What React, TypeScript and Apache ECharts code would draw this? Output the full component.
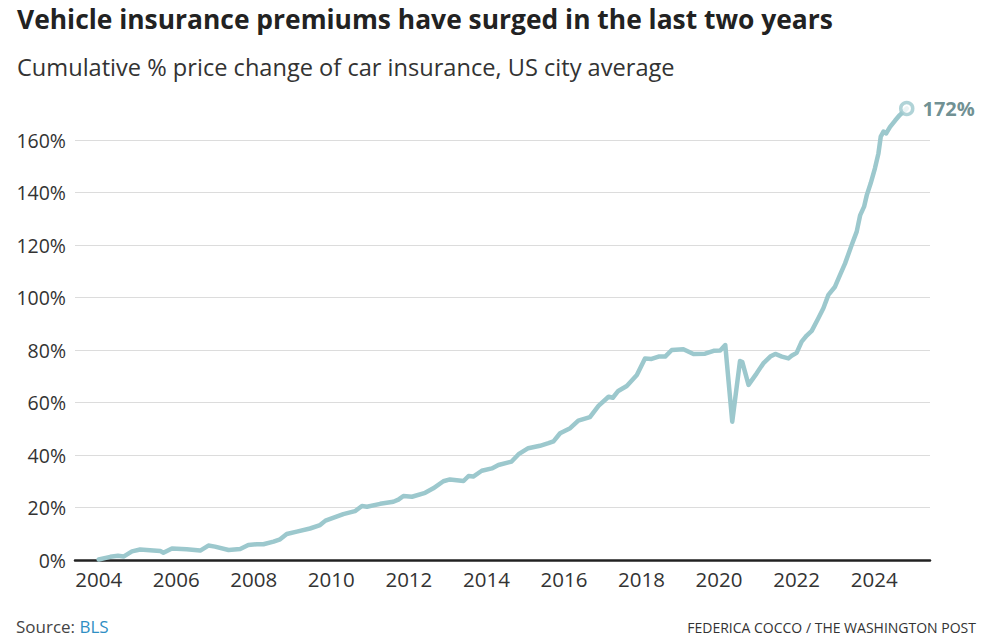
import React, { useEffect, useRef } from "react";
import * as echarts from "echarts";

const dates: number[] = [
  2004.0, 2004.3, 2004.5, 2004.64, 2004.86, 2005.07, 2005.41, 2005.59, 2005.67, 2005.89,
  2006.27, 2006.62, 2006.83, 2007.0, 2007.35, 2007.65, 2007.86, 2008.08, 2008.25, 2008.51,
  2008.68, 2008.85, 2009.11, 2009.45, 2009.71, 2009.85, 2010.31, 2010.61, 2010.79, 2010.92,
  2011.26, 2011.6, 2011.73, 2011.86, 2012.08, 2012.42, 2012.63, 2012.89, 2013.06, 2013.41,
  2013.54, 2013.66, 2013.88, 2014.14, 2014.31, 2014.65, 2014.83, 2015.08, 2015.38, 2015.6,
  2015.73, 2015.9, 2016.16, 2016.37, 2016.67, 2016.89, 2017.15, 2017.26, 2017.4, 2017.62,
  2017.88, 2018.09, 2018.26, 2018.44, 2018.61, 2018.78, 2019.08, 2019.34, 2019.64, 2019.86,
  2020.03, 2020.16, 2020.34, 2020.54, 2020.6, 2020.76, 2020.97, 2021.14, 2021.32, 2021.45,
  2021.62, 2021.79, 2021.87, 2022.0, 2022.13, 2022.26, 2022.39, 2022.56, 2022.69, 2022.82,
  2022.99, 2023.12, 2023.25, 2023.42, 2023.55, 2023.64, 2023.74, 2023.81, 2023.91, 2024.02,
  2024.11, 2024.17, 2024.24, 2024.31, 2024.41, 2024.54, 2024.66, 2024.84,
];

// Cumulative % price change of car insurance
const values: number[] = [
  0.2, 1.2, 1.6, 1.3, 3.3, 4.0, 3.6, 3.4, 2.8, 4.4,
  4.1, 3.6, 5.5, 5.1, 3.8, 4.2, 5.7, 6.0, 6.0, 7.0,
  7.9, 9.9, 10.8, 12.0, 13.3, 15.0, 17.5, 18.6, 20.6, 20.3,
  21.4, 22.2, 23.0, 24.4, 24.1, 25.6, 27.3, 30.0, 30.7, 30.1,
  32.0, 31.8, 34.0, 34.9, 36.2, 37.5, 40.3, 42.6, 43.5, 44.5,
  45.2, 48.3, 50.2, 53.1, 54.4, 58.7, 62.2, 61.8, 64.4, 66.3,
  70.5, 76.8, 76.6, 77.5, 77.5, 80.0, 80.3, 78.5, 78.6, 79.7,
  79.8, 81.9, 52.7, 75.8, 75.4, 66.7, 71.1, 74.9, 77.5, 78.5,
  77.5, 76.8, 77.8, 78.9, 83.2, 85.5, 87.3, 92.1, 95.9, 101,
  104.1, 108.6, 113, 120, 125.1, 131.4, 134.6, 139, 143.5, 149.2,
  154.9, 161.3, 163.2, 162.5, 165, 167.4, 169.5, 172,
];

const xTickYears: number[] = [2004, 2006, 2008, 2010, 2012, 2014, 2016, 2018, 2020, 2022, 2024];
const yTicks: number[] = [0, 20, 40, 60, 80, 100, 120, 140, 160];

const titleText = "Vehicle insurance premiums have surged in the last two years";
const subtitleText = "Cumulative % price change of car insurance, US city average";
const creditText = "FEDERICA COCCO / THE WASHINGTON POST";

const FONT = "'Open Sans', Roboto, 'Liberation Sans', sans-serif";
const LINE = "#9cc8cd";

export default function App() {
  const ref = useRef<HTMLDivElement>(null);
  useEffect(() => {
    if (!ref.current) return;
    const chart = echarts.init(ref.current, null, { renderer: "svg" });
    const seriesData = dates.map((d, i) => [d, values[i]]);
    const last = seriesData[seriesData.length - 1];
    chart.setOption({
      animation: false,
      backgroundColor: "#ffffff",
      textStyle: { fontFamily: FONT },
      grid: { left: 75, right: 66, top: 140, bottom: 82, containLabel: false },
      xAxis: {
        type: "value",
        min: 2003.39,
        max: 2025.44,
        axisLine: { show: true, onZero: false, lineStyle: { color: "#222", width: 2.5 } },
        axisTick: { show: false },
        splitLine: { show: false },
        axisLabel: {
          customValues: xTickYears,
          formatter: (v: number) => String(Math.round(v)),
          color: "#333",
          fontSize: 20.5,
          fontFamily: FONT,
          margin: 8,
        },
      },
      yAxis: {
        type: "value",
        min: 0,
        max: 160,
        interval: 20,
        axisLine: { show: false },
        axisTick: { show: false },
        splitLine: { show: true, lineStyle: { color: "#dcdcdc", width: 1 } },
        axisLabel: {
          customValues: yTicks,
          formatter: "{value}%",
          color: "#333",
          fontSize: 19.5,
          fontFamily: FONT,
          margin: 9,
        },
      },
      series: [
        {
          type: "line",
          data: seriesData,
          showSymbol: false,
          symbol: "none",
          clip: false,
          lineStyle: { color: LINE, width: 4.5, join: "round", cap: "round" },
          z: 3,
        },
        {
          type: "scatter",
          data: [last],
          clip: false,
          symbol: "circle",
          symbolSize: 12,
          itemStyle: { color: "#ffffff", borderColor: LINE, borderWidth: 3.5 },
          label: {
            show: true,
            position: "right",
            distance: 8,
            formatter: `${last[1]}%`,
            color: "#4a7377",
            fontSize: 20,
            fontWeight: "bold",
            fontFamily: FONT,
          },
          z: 5,
        },
      ],
      graphic: [
        {
          type: "text",
          left: 17,
          top: 6,
          style: { text: titleText, fontSize: 26.4, fontWeight: "bold", fill: "#222", fontFamily: FONT },
        },
        {
          type: "text",
          left: 17,
          top: 55,
          style: { text: subtitleText, fontSize: 23.6, fill: "#333", fontFamily: FONT },
        },
        {
          type: "text",
          left: 16,
          top: 618,
          style: {
            text: "{a|Source: }{b|BLS}",
            fontFamily: FONT,
            rich: {
              a: { fontSize: 17, fill: "#444", fontFamily: FONT },
              b: { fontSize: 17, fill: "#2f8fc4", fontFamily: FONT },
            },
          },
        },
        {
          type: "text",
          right: 20,
          top: 620,
          style: { text: creditText, fontSize: 14, fill: "#333", fontFamily: FONT },
        },
      ],
    });
    return () => chart.dispose();
  }, []);
  return (
    <div
      ref={ref}
      style={{ position: "fixed", left: 0, top: 0, width: 996, height: 642 }}
    />
  );
}
